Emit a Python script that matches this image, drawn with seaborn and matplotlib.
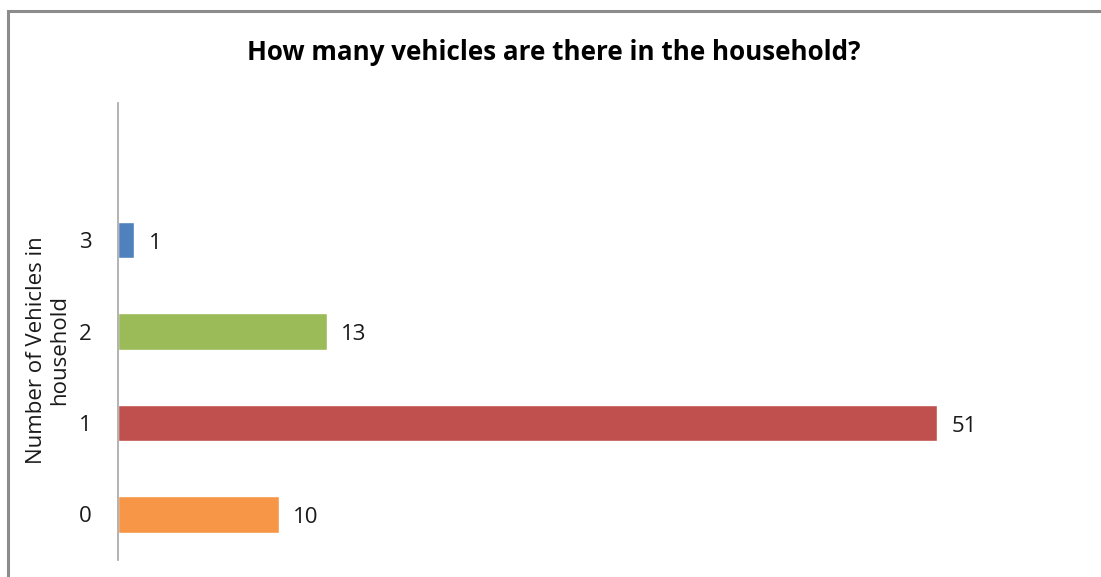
import numpy as np
import pandas as pd
import matplotlib
matplotlib.use("Agg")
import matplotlib.pyplot as plt
from matplotlib.patches import Rectangle
import seaborn as sns

# Survey responses: number of vehicles in the household
categories = ["3", "2", "1", "0"]
counts = [1, 13, 51, 10]
bar_colors = ["#4F81BD", "#9BBB59", "#C0504D", "#F79646"]

title = "How many vehicles are there in the household?"
y_title = "Number of Vehicles in\nhousehold"

sns.set_theme(style="white")
plt.rcParams["font.family"] = ["Open Sans", "DejaVu Sans"]

W, H = 1101, 577
fig = plt.figure(figsize=(W / 100, H / 100), dpi=100)

# chart frame (runs off the right and bottom edges)
fig.patches.append(Rectangle((8 / W, -0.1), 1.2, (H - 11) / H + 0.1,
                             transform=fig.transFigure, fill=False,
                             edgecolor="#8c8c8c", linewidth=2.2, zorder=0))

ax = fig.add_axes([118 / W, (H - 560) / H, 963.6 / W, 457 / H])

df = pd.DataFrame({"vehicles": categories, "count": counts})
sns.barplot(data=df, y="vehicles", x="count", hue="vehicles",
            palette=bar_colors, order=categories, hue_order=categories,
            orient="h", width=0.4, legend=False, ax=ax, saturation=1)

ax.set_xlim(0, 60)
ax.set_ylim(3.5, -1.5)

for spine in ["top", "right", "bottom"]:
    ax.spines[spine].set_visible(False)
ax.spines["left"].set_color("#a6a6a6")
ax.spines["left"].set_linewidth(1.2)
ax.set_xticks([])
ax.tick_params(axis="y", length=0, pad=19, labelsize=16, labelcolor="#1a1a1a")
ax.set_xlabel("")
ax.set_ylabel("")

for cont in ax.containers:
    labels = ax.bar_label(cont, fmt="%d", padding=10.5, fontsize=16,
                          color="#1a1a1a")
    for t in labels:
        t.set_y(-2.5)

# axis title, two centred lines rotated
fig.text(48 / W, 1 - 350 / H, y_title, rotation=90, ha="center", va="center",
         multialignment="center", fontsize=16, color="#1a1a1a",
         linespacing=1.1)

fig.text(0.503, 1 - 52 / H, title, ha="center", va="center",
         fontsize=18.7, fontweight="bold", color="black")

fig.savefig("out.png", dpi=100)
